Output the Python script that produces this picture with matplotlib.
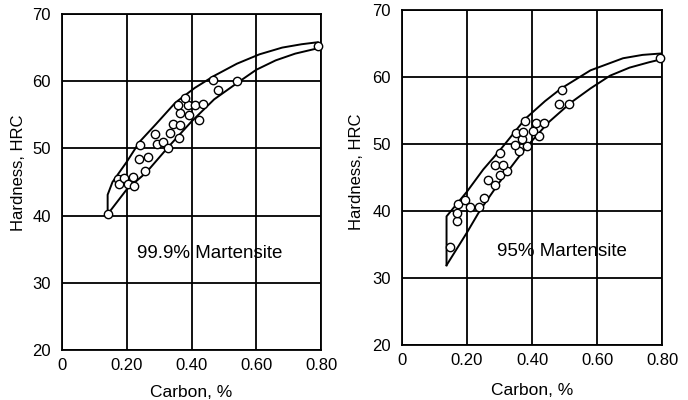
import matplotlib
matplotlib.use("Agg")
import matplotlib.pyplot as plt

plt.rcParams["font.family"] = ["Liberation Sans", "DejaVu Sans"]
plt.rcParams["font.size"] = 12

# 99.9 % martensite panel
carbon_999 = [0.141, 0.172, 0.175, 0.190, 0.205, 0.222, 0.220, 0.256, 0.238, 0.266,
              0.241, 0.287, 0.292, 0.313, 0.328, 0.333, 0.362, 0.344, 0.364, 0.364,
              0.393, 0.424, 0.359, 0.390, 0.410, 0.436, 0.380, 0.466, 0.483, 0.539, 0.790]
hrc_999 = [40.2, 45.4, 44.7, 45.6, 44.7, 44.4, 45.8, 46.7, 48.4, 48.7,
           50.5, 52.2, 50.7, 51.0, 50.0, 52.3, 51.5, 53.6, 53.5, 55.3,
           55.0, 54.3, 56.5, 56.5, 56.5, 56.6, 57.5, 60.2, 58.7, 60.1, 65.2]
upper_999_x = [0.141, 0.141, 0.156, 0.20, 0.24, 0.29, 0.35, 0.41, 0.47, 0.54, 0.61, 0.68, 0.74, 0.79]
upper_999_y = [40.2, 43.1, 45.0, 48.0, 51.0, 53.6, 56.8, 59.0, 60.8, 62.6, 64.0, 65.0, 65.5, 65.8]
lower_999_x = [0.141, 0.20, 0.26, 0.33, 0.40, 0.47, 0.54, 0.60, 0.66, 0.72, 0.79]
lower_999_y = [40.2, 43.9, 46.4, 50.3, 54.0, 57.3, 59.7, 61.7, 63.1, 64.1, 64.9]

# 95 % martensite panel
carbon_95 = [0.148, 0.168, 0.168, 0.173, 0.194, 0.209, 0.236, 0.252, 0.265, 0.286,
             0.302, 0.324, 0.286, 0.311, 0.302, 0.361, 0.348, 0.383, 0.368, 0.420,
             0.351, 0.373, 0.402, 0.378, 0.412, 0.437, 0.484, 0.514, 0.491, 0.794]
hrc_95 = [34.7, 38.5, 39.7, 41.0, 41.6, 40.6, 40.6, 42.0, 44.6, 43.9,
          45.4, 45.9, 46.8, 46.8, 48.7, 48.9, 49.9, 49.7, 50.7, 51.2,
          51.6, 51.8, 52.0, 53.4, 53.1, 53.2, 56.0, 56.0, 58.0, 62.9]
upper_95_x = [0.137, 0.137, 0.20, 0.25, 0.30, 0.38, 0.44, 0.49, 0.58, 0.68, 0.74, 0.794]
upper_95_y = [31.9, 39.2, 42.9, 46.2, 49.0, 53.8, 56.4, 58.3, 61.0, 62.8, 63.3, 63.5]
lower_95_x = [0.137, 0.20, 0.24, 0.30, 0.38, 0.45, 0.52, 0.58, 0.64, 0.70, 0.76, 0.794]
lower_95_y = [31.9, 36.8, 40.1, 44.3, 49.4, 53.2, 56.2, 58.3, 60.2, 61.4, 62.2, 62.6]

xticks = [0, 0.2, 0.4, 0.6, 0.8]
xlabels = ["0", "0.20", "0.40", "0.60", "0.80"]
yticks = [20, 30, 40, 50, 60, 70]

fig = plt.figure(figsize=(6.88, 4.0), dpi=100)
ax1 = fig.add_axes([0.0901, 0.125, 0.3765, 0.84])
ax2 = fig.add_axes([0.5843, 0.1375, 0.378, 0.8375])

panels = [
    (ax1, carbon_999, hrc_999, upper_999_x, upper_999_y, lower_999_x, lower_999_y,
     "99.9% Martensite", (0.455, 34.3), (-0.139, 0.528), -0.104),
    (ax2, carbon_95, hrc_95, upper_95_x, upper_95_y, lower_95_x, lower_95_y,
     "95% Martensite", (0.492, 33.9), (-0.146, 0.516), -0.113),
]

for ax, cx, cy, ux, uy, lx, ly, label, txt_pos, ylab_pos, xlab_y in panels:
    ax.set_xlim(0, 0.8)
    ax.set_ylim(20, 70)
    ax.set_xticks(xticks)
    ax.set_xticklabels(xlabels)
    ax.set_yticks(yticks)
    ax.grid(True, color="black", linewidth=1.3)
    ax.set_axisbelow(True)
    for s in ax.spines.values():
        s.set_linewidth(1.3)
    ax.tick_params(length=0, labelsize=12)
    ax.tick_params(axis="x", pad=6)
    ax.tick_params(axis="y", pad=8)
    # envelope of the scatter band
    ax.plot(ux, uy, color="black", linewidth=1.4, zorder=3)
    ax.plot(lx, ly, color="black", linewidth=1.4, zorder=3)
    ax.plot(cx, cy, "o", markersize=6, markerfacecolor="white",
            markeredgecolor="black", markeredgewidth=1.0, zorder=4, clip_on=False)
    ax.text(txt_pos[0], txt_pos[1], label, ha="center", va="center", fontsize=13.5, zorder=5)
    ax.set_xlabel("Carbon, %", fontsize=12.5)
    ax.set_ylabel("Hardness, HRC", fontsize=12)
    ax.yaxis.set_label_coords(ylab_pos[0], ylab_pos[1])
    ax.xaxis.set_label_coords(0.5, xlab_y)

fig.savefig("out.png", dpi=100)
